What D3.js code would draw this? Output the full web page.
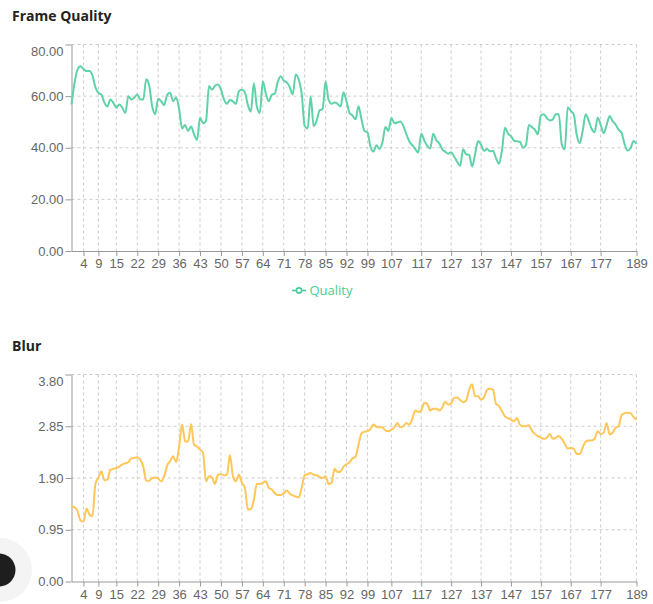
<!DOCTYPE html>
<html>
<head>
  <title>Frame Quality / Blur</title>
  <script src="https://d3js.org/d3.v7.min.js"></script>
  <style>
    body { margin: 0; background: #fff; }
    svg { display: block; font-family: "Open Sans", "Noto Sans", sans-serif; }
    .grid line { stroke: #ccc; stroke-dasharray: 3 3; }
    .axis path, .axis line { stroke: #999; }
    .axis text { fill: #666; font-size: 13px; }
  </style>
</head>
<body>
  <div id="chart"></div>
  <script>
    // frame numbers (category axis)
    var frames = [
      0, 1, 2, 3, 4, 5, 6, 7, 8, 9, 10, 11, 12, 13, 14, 15, 16, 17, 18, 19,
      20, 21, 22, 23, 24, 25, 26, 27, 28, 29, 30, 31, 32, 33, 34, 35, 36, 37, 38, 39,
      40, 41, 42, 43, 44, 45, 46, 47, 48, 49, 50, 51, 52, 53, 54, 55, 56, 57, 58, 59,
      60, 61, 62, 63, 64, 65, 66, 67, 68, 69, 70, 71, 72, 73, 74, 75, 76, 77, 78, 79,
      80, 81, 82, 83, 84, 85, 86, 87, 88, 89, 90, 91, 92, 93, 94, 95, 96, 97, 98, 99,
      100, 101, 102, 103, 104, 105, 106, 107, 108, 109, 110, 111, 112, 113, 114, 115, 116, 117, 118, 119,
      120, 121, 122, 123, 124, 125, 126, 127, 128, 129, 130, 131, 132, 133, 134, 135, 136, 137, 138, 139,
      140, 141, 142, 143, 144, 145, 146, 147, 148, 149, 150, 151, 152, 153, 154, 155, 156, 157, 158, 159,
      160, 161, 162, 163, 164, 165, 166, 167, 168, 169, 170, 171, 172, 173, 174, 175, 176, 177, 178, 179,
      180, 181, 182, 183, 184, 185, 186, 187, 188, 189
    ];

    var quality = [
      56.8, 65, 70.3, 71.6, 70.5, 69.7, 69.7, 68, 63.5, 61.3,
      60.6, 57.5, 56, 58.7, 57.4, 55.5, 56.8, 55.5, 53.5, 60,
      58.7, 59.4, 60.6, 58.7, 58.7, 66.5, 64, 56, 53, 59,
      58, 56.5, 60.5, 61.3, 58, 59.5, 55, 47.5, 48.8, 46.5,
      48.2, 45.2, 43, 51.6, 49.5, 50.5, 63.9, 62.5, 64, 64.5,
      62.5, 58.7, 57, 58.5, 58, 57, 61.9, 62.5, 61.5, 56.5,
      54, 65, 56, 53.5, 65.8, 61, 58, 60.5, 61, 65.5,
      67.7, 66, 65.3, 63.5, 60.6, 68.4, 66.5, 61, 48.4, 47.5,
      60, 48.4, 50.5, 54.5, 55, 65.8, 58.5, 57, 57.5, 57,
      56, 61.5, 58, 53.5, 52.5, 51, 56.1, 51, 46.5, 46,
      40.5, 38.5, 41, 39.5, 42, 48, 46.5, 51.5, 49.5, 49.8,
      50.2, 48.5, 45.3, 42.5, 41, 39.5, 38.2, 45.4, 42.8, 40.7,
      39.7, 45.4, 43, 41.7, 39.5, 38.5, 37.7, 38.3, 36.5, 34.6,
      33, 39.4, 37.5, 37.3, 32.7, 37.5, 42.6, 41.2, 38.8, 39.5,
      38.6, 38.8, 36, 33.8, 39, 47.7, 45.5, 44.5, 42.8, 42.5,
      42.3, 40, 41, 48.8, 48, 47, 45.2, 52.5, 53, 51.5,
      50.6, 51, 53, 53, 41.3, 39.4, 55.7, 54.3, 53, 45,
      41.8, 46.5, 53, 50.5, 47.3, 46, 51.6, 49, 45.7, 48.7,
      52.3, 50.3, 49, 47, 45.8, 41.5, 38.9, 39.8, 42.6, 41.5
    ];

    var blur = [
      1.38, 1.36, 1.30, 1.12, 1.10, 1.34, 1.23, 1.20, 1.79, 1.90,
      2.02, 1.86, 1.87, 2.05, 2.07, 2.08, 2.11, 2.15, 2.17, 2.19,
      2.26, 2.27, 2.28, 2.24, 2.11, 1.85, 1.85, 1.90, 1.91, 1.89,
      1.84, 1.93, 2.13, 2.21, 2.30, 2.19, 2.48, 2.88, 2.57, 2.57,
      2.89, 2.51, 2.48, 2.42, 2.36, 1.84, 1.93, 1.91, 1.79, 1.96,
      1.97, 1.95, 1.96, 2.32, 1.93, 1.84, 1.96, 1.81, 1.72, 1.32,
      1.33, 1.50, 1.79, 1.79, 1.81, 1.84, 1.72, 1.69, 1.62, 1.59,
      1.59, 1.62, 1.67, 1.61, 1.58, 1.56, 1.54, 1.72, 1.95, 1.97,
      1.99, 1.96, 1.95, 1.92, 1.90, 1.93, 1.79, 1.81, 2.07, 2.01,
      2.02, 2.11, 2.15, 2.19, 2.26, 2.29, 2.51, 2.72, 2.75, 2.76,
      2.80, 2.88, 2.84, 2.83, 2.83, 2.77, 2.76, 2.79, 2.83, 2.91,
      2.83, 2.85, 2.91, 2.88, 2.99, 3.14, 3.11, 3.14, 3.28, 3.26,
      3.14, 3.17, 3.17, 3.14, 3.19, 3.30, 3.25, 3.27, 3.37, 3.38,
      3.33, 3.29, 3.32, 3.52, 3.62, 3.40, 3.40, 3.34, 3.38, 3.52,
      3.54, 3.52, 3.26, 3.22, 3.13, 3.03, 3.00, 2.97, 2.94, 3.00,
      2.88, 2.85, 2.85, 2.87, 2.77, 2.71, 2.67, 2.64, 2.62, 2.64,
      2.71, 2.62, 2.64, 2.67, 2.62, 2.53, 2.44, 2.45, 2.44, 2.34,
      2.34, 2.46, 2.57, 2.59, 2.59, 2.62, 2.76, 2.71, 2.73, 2.91,
      2.70, 2.73, 2.82, 2.85, 3.05, 3.09, 3.10, 3.09, 3.02, 2.97
    ];

    var xTicks = [4, 9, 15, 22, 29, 36, 43, 50, 57, 64, 71, 78, 85, 92, 99, 107, 117, 127, 137, 147, 157, 167, 177, 189];
    var qualityTicks = [0, 20, 40, 60, 80];
    var blurTicks = [0, 0.95, 1.90, 2.85, 3.80];

    var svg = d3.select("#chart")
                .append("svg")
                .attr("width", 653)
                .attr("height", 604);

    var xScale = d3.scalePoint()
                   .domain(frames)
                   .range([71.5, 636.5]);

    function drawPanel(p) {
      var yScale = d3.scaleLinear()
                     .domain([0, p.ticks[p.ticks.length - 1]])
                     .range([p.bottom, p.top]);

      // title
      svg.append("text")
         .attr("x", 12)
         .attr("y", p.titleY)
         .attr("font-size", 14)
         .attr("font-weight", "bold")
         .attr("fill", "#222")
         .text(p.title);

      // dotted grid
      var grid = svg.append("g").attr("class", "grid");
      grid.selectAll(".h")
          .data(p.ticks.slice(1))
          .enter().append("line")
          .attr("x1", xScale.range()[0]).attr("x2", xScale.range()[1])
          .attr("y1", d => yScale(d)).attr("y2", d => yScale(d));
      grid.selectAll(".v")
          .data(xTicks)
          .enter().append("line")
          .attr("x1", d => xScale(d)).attr("x2", d => xScale(d))
          .attr("y1", p.top).attr("y2", p.bottom);

      // x axis
      svg.append("g")
         .attr("class", "axis")
         .attr("transform", `translate(0, ${p.bottom})`)
         .call(d3.axisBottom(xScale).tickValues(xTicks).tickSize(5).tickSizeOuter(0).tickPadding(3))
         .call(g => g.selectAll("text").attr("font-family", null));

      // y axis
      var yAxis = svg.append("g")
         .attr("class", "axis")
         .attr("transform", `translate(${xScale.range()[0]}, 0)`)
         .call(d3.axisLeft(yScale).tickValues(p.ticks).tickFormat(d3.format(".2f")).tickSize(6).tickSizeOuter(0).tickPadding(2));
      // top label sits a little below its tick in the original
      yAxis.selectAll(".tick text")
           .filter(d => d === p.ticks[p.ticks.length - 1])
           .attr("dy", "0.85em");
      yAxis.selectAll("text").attr("font-family", null);

      // the line
      var line = d3.line()
                   .curve(d3.curveMonotoneX)
                   .x((d, i) => xScale(frames[i]))
                   .y(d => yScale(d));

      svg.append("path")
         .datum(p.values)
         .attr("fill", "none")
         .attr("stroke", p.color)
         .attr("stroke-width", 2)
         .attr("d", line);
    }

    drawPanel({ title: "Frame Quality", titleY: 21, top: 44.5, bottom: 251, ticks: qualityTicks, values: quality, color: "#5fd3a7" });
    drawPanel({ title: "Blur", titleY: 350.5, top: 374.5, bottom: 581.5, ticks: blurTicks, values: blur, color: "#ffc658" });

    // legend for the quality chart
    var legend = svg.append("g").attr("transform", "translate(292, 290.5)");
    legend.append("line")
          .attr("x1", 0).attr("x2", 14)
          .attr("stroke", "#4cc999").attr("stroke-width", 1.6);
    legend.append("circle")
          .attr("cx", 7).attr("r", 2.6)
          .attr("fill", "#fff").attr("stroke", "#4cc999").attr("stroke-width", 1.6);
    legend.append("text")
          .attr("x", 17.5).attr("dy", "0.35em")
          .attr("font-size", 13)
          .attr("fill", "#4cc999")
          .text("Quality");

    // floating button peeking in at the bottom left
    svg.append("circle").attr("cx", 0).attr("cy", 570).attr("r", 32).attr("fill", "#f4f4f4");
    svg.append("circle").attr("cx", -1).attr("cy", 570).attr("r", 16.5).attr("fill", "#1e1e1e");
  </script>
</body>
</html>
